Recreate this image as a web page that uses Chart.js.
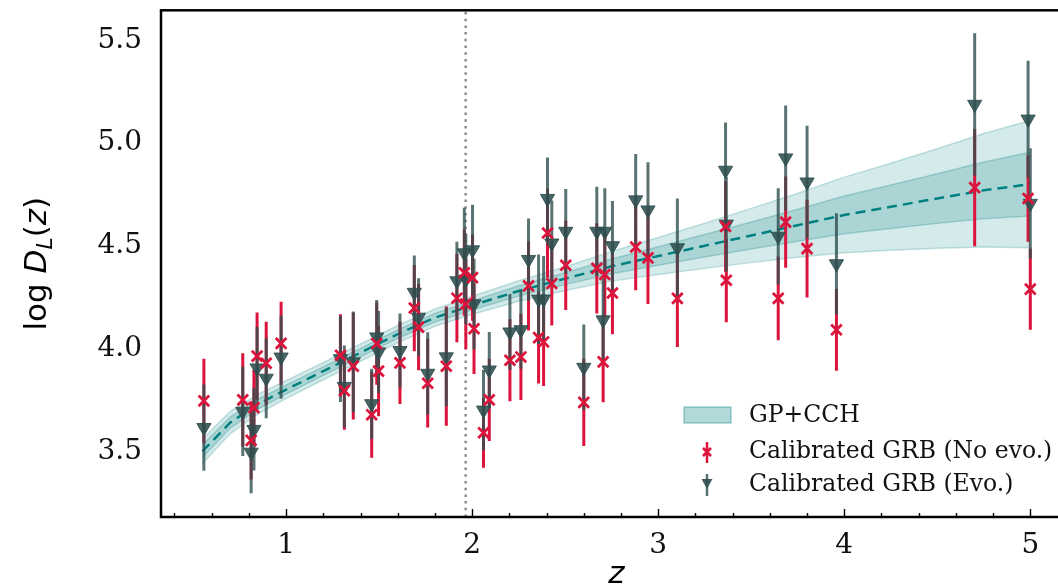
<!DOCTYPE html>
<html>
<head>
<meta charset="utf-8">
<script src="https://cdn.jsdelivr.net/npm/chart.js@4.4.1/dist/chart.umd.min.js"></script>
<style>
  html, body { margin: 0; padding: 0; background: #fff; overflow: hidden; }
  canvas { display: block; }
</style>
</head>
<body>
<canvas id="chart" width="1082" height="587"></canvas>
<script>
// Hubble diagram of calibrated GRBs against the GP+CCH reconstruction.

// GRB redshifts
const zGRB = [0.558, 0.767, 0.812, 0.827, 0.844, 0.893, 0.973, 1.292, 1.313, 1.361,
  1.46, 1.487, 1.497, 1.612, 1.689, 1.712, 1.761, 1.861, 1.918, 1.958,
  1.966, 2.002, 2.01, 2.061, 2.092, 2.203, 2.262, 2.303, 2.357, 2.384,
  2.405, 2.428, 2.503, 2.6, 2.67, 2.704, 2.713, 2.754, 2.879, 2.945,
  3.103, 3.362, 3.366, 3.645, 3.685, 3.8, 3.958, 4.701, 4.988, 5.0];

// log D_L, calibrated without evolution (red crosses) and its 1-sigma error
const logDLNoEvo = [3.745, 3.75, 3.553, 3.712, 3.963, 3.928, 4.025, 3.967, 3.795, 3.914,
  3.678, 4.024, 3.89, 3.93, 4.197, 4.104, 3.831, 3.914, 4.245, 4.369,
  4.217, 4.345, 4.096, 3.59, 3.75, 3.943, 3.959, 4.305, 4.053, 4.032,
  4.562, 4.316, 4.405, 3.738, 4.39, 3.935, 4.36, 4.27, 4.494, 4.441,
  4.244, 4.594, 4.332, 4.244, 4.615, 4.486, 4.091, 4.783, 4.73, 4.289];
const errNoEvo = [0.205, 0.227, 0.19, 0.183, 0.212, 0.202, 0.203, 0.2, 0.19, 0.26,
  0.21, 0.2, 0.22, 0.2, 0.21, 0.21, 0.216, 0.29, 0.215, 0.21,
  0.22, 0.21, 0.22, 0.17, 0.2, 0.2, 0.21, 0.217, 0.223, 0.214,
  0.217, 0.204, 0.217, 0.212, 0.22, 0.197, 0.21, 0.2, 0.21, 0.224,
  0.237, 0.22, 0.204, 0.204, 0.222, 0.238, 0.199, 0.285, 0.21, 0.198];

// log D_L, calibrated with evolution (dark triangles) and its 1-sigma error
const logDLEvo = [3.615, 3.694, 3.495, 3.606, 3.905, 3.855, 3.958, 3.95, 3.815, 3.935,
  3.731, 4.056, 3.983, 3.99, 4.273, 4.152, 3.879, 3.959, 4.329, 4.465,
  4.337, 4.48, 4.217, 3.7, 3.895, 4.08, 4.091, 4.433, 4.24, 4.24,
  4.73, 4.513, 4.57, 3.908, 4.57, 4.139, 4.57, 4.5, 4.723, 4.674,
  4.49, 4.867, 4.605, 4.546, 4.927, 4.81, 4.412, 5.188, 5.116, 4.706];
const errEvo = [0.21, 0.217, 0.2, 0.2, 0.2, 0.195, 0.203, 0.21, 0.2, 0.245,
  0.17, 0.18, 0.2, 0.18, 0.18, 0.19, 0.2, 0.24, 0.19, 0.22,
  0.22, 0.22, 0.22, 0.195, 0.185, 0.185, 0.19, 0.2, 0.218, 0.21,
  0.2, 0.207, 0.206, 0.209, 0.217, 0.2, 0.21, 0.218, 0.224, 0.233,
  0.24, 0.233, 0.23, 0.234, 0.256, 0.274, 0.246, 0.346, 0.284, 0.269];

// GP+CCH reconstruction: mean and 1-sigma half width
const gpZ = [0.55, 0.7, 0.85, 1.0, 1.2, 1.4, 1.6, 1.8, 2.0, 2.25, 2.5,
  2.75, 3.0, 3.25, 3.5, 3.75, 4.0, 4.25, 4.5, 4.75, 5.0];
const gpMean = [3.5, 3.64, 3.73, 3.8, 3.89, 3.98, 4.07, 4.15, 4.21, 4.28, 4.34,
  4.4, 4.45, 4.5, 4.55, 4.6, 4.65, 4.69, 4.73, 4.77, 4.8];
const gpSigma = [0.03, 0.027, 0.024, 0.022, 0.021, 0.021, 0.021, 0.021, 0.022, 0.025, 0.029,
  0.036, 0.045, 0.055, 0.066, 0.078, 0.092, 0.106, 0.121, 0.138, 0.155];

// highest cosmic-chronometer redshift (dotted line)
const zCCHmax = 1.965;

const xTicks = [1, 2, 3, 4, 5];
const xMinorTicks = [0.4, 0.6, 0.8, 1.2, 1.4, 1.6, 1.8, 2.2, 2.4, 2.6, 2.8,
  3.2, 3.4, 3.6, 3.8, 4.2, 4.4, 4.6, 4.8, 5.2];
const yTicks = [3.5, 4.0, 4.5, 5.0, 5.5];
const xRange = [0.3275, 5.2225];
const yRange = [3.18, 5.646];

const RED = "#dc143c";
const DARK = "rgba(47, 79, 79, 0.8)";
const TEAL = "#008080";

function band(k) {
  return {
    upper: gpZ.map((z, i) => ({ x: z, y: gpMean[i] + k * gpSigma[i] })),
    lower: gpZ.map((z, i) => ({ x: z, y: gpMean[i] - k * gpSigma[i] })),
  };
}

function errorBars(values, errs) {
  const pts = [];
  zGRB.forEach((z, i) => {
    pts.push({ x: z, y: values[i] - errs[i] });
    pts.push({ x: z, y: values[i] + errs[i] });
    pts.push({ x: z, y: null });
  });
  return pts;
}

const band2 = band(2);
const band1 = band(1);

const lineDefaults = { pointRadius: 0, tension: 0, spanGaps: false };

const datasets = [
  { ...lineDefaults, data: band2.upper, fill: "+1", order: 20,
    backgroundColor: "rgba(0,128,128,0.165)", borderColor: "rgba(0,128,128,0.22)", borderWidth: 1.5 },
  { ...lineDefaults, data: band2.lower, fill: false, order: 20,
    borderColor: "rgba(0,128,128,0.22)", borderWidth: 1.5 },
  { ...lineDefaults, data: band1.upper, fill: "+1", order: 19,
    backgroundColor: "rgba(0,128,128,0.2)", borderColor: "rgba(0,128,128,0.25)", borderWidth: 1.5 },
  { ...lineDefaults, data: band1.lower, fill: false, order: 19,
    borderColor: "rgba(0,128,128,0.25)", borderWidth: 1.5 },
  { ...lineDefaults, data: gpZ.map((z, i) => ({ x: z, y: gpMean[i] })), order: 18,
    borderColor: TEAL, borderWidth: 2.5, borderDash: [10, 6], fill: false },
  { ...lineDefaults, data: [{ x: zCCHmax, y: yRange[0] }, { x: zCCHmax, y: yRange[1] }], order: 17,
    borderColor: "#8c8c8c", borderWidth: 2.5, borderDash: [2.5, 4.2], fill: false },
  { ...lineDefaults, data: errorBars(logDLNoEvo, errNoEvo), order: 10,
    borderColor: RED, borderWidth: 3, fill: false },
  { ...lineDefaults, data: errorBars(logDLEvo, errEvo), order: 9,
    borderColor: DARK, borderWidth: 3, fill: false },
  { data: zGRB.map((z, i) => ({ x: z, y: logDLEvo[i] })), order: 8, showLine: false,
    pointStyle: "triangle", rotation: 180, pointRadius: 8.2,
    pointBackgroundColor: "rgba(47,79,79,0.88)", pointBorderColor: "rgba(47,79,79,0.88)", pointBorderWidth: 1 },
  { data: zGRB.map((z, i) => ({ x: z, y: logDLNoEvo[i] })), order: 7, showLine: false,
    pointStyle: "crossRot", pointRadius: 7.5, pointBorderColor: RED, pointBorderWidth: 2.8 },
];

const tickFont = { family: "DejaVu Serif", size: 28 };

const decorations = {
  id: "decorations",
  afterDraw(chart) {
    const { ctx, chartArea } = chart;
    const { left, right, top, bottom } = chartArea;
    const xs = chart.scales.x;
    ctx.save();

    // inward ticks on the bottom axis
    ctx.strokeStyle = "#000";
    ctx.lineWidth = 1.4;
    ctx.beginPath();
    xTicks.forEach((v) => {
      const px = Math.round(xs.getPixelForValue(v)) + 0.5;
      ctx.moveTo(px, bottom);
      ctx.lineTo(px, bottom - 8);
    });
    xMinorTicks.forEach((v) => {
      const px = Math.round(xs.getPixelForValue(v)) + 0.5;
      ctx.moveTo(px, bottom);
      ctx.lineTo(px, bottom - 4);
    });
    ctx.stroke();

    // frame
    ctx.lineWidth = 2.5;
    ctx.strokeRect(left, top, right - left, bottom - top);

    // x title
    ctx.fillStyle = "#000";
    ctx.font = 'italic 31px "DejaVu Sans"';
    ctx.textAlign = "center";
    ctx.textBaseline = "alphabetic";
    ctx.fillText("z", (left + right) / 2, 583);

    // y title: log D_L(z)
    const parts = [
      { t: "log", f: '31px "DejaVu Sans"', dy: 0 },
      { t: " ", f: '31px "DejaVu Sans"', dy: 0 },
      { t: "D", f: 'italic 31px "DejaVu Sans"', dy: 0 },
      { t: "L", f: 'italic 22px "DejaVu Sans"', dy: 6 },
      { t: "(", f: '31px "DejaVu Sans"', dy: 0 },
      { t: "z", f: 'italic 31px "DejaVu Sans"', dy: 0 },
      { t: ")", f: '31px "DejaVu Sans"', dy: 0 },
    ];
    let total = 0;
    parts.forEach((p) => { ctx.font = p.f; p.w = ctx.measureText(p.t).width; total += p.w; });
    ctx.translate(46, (top + bottom) / 2);
    ctx.rotate(-Math.PI / 2);
    ctx.textAlign = "left";
    let cx = -total / 2;
    parts.forEach((p) => { ctx.font = p.f; ctx.fillText(p.t, cx, p.dy); cx += p.w; });
    ctx.setTransform(1, 0, 0, 1, 0, 0);

    // legend
    const lx = 707, tx = 749;
    ctx.fillStyle = "rgba(0,128,128,0.3)";
    ctx.strokeStyle = "rgba(0,128,128,0.35)";
    ctx.lineWidth = 1.5;
    ctx.fillRect(684, 407, 47, 16);
    ctx.strokeRect(684, 407, 47, 16);

    ctx.strokeStyle = RED;
    ctx.lineWidth = 2.5;
    ctx.beginPath();
    ctx.moveTo(lx, 442); ctx.lineTo(lx, 463);
    ctx.moveTo(lx - 4, 448); ctx.lineTo(lx + 4, 456);
    ctx.moveTo(lx + 4, 448); ctx.lineTo(lx - 4, 456);
    ctx.stroke();

    ctx.strokeStyle = DARK;
    ctx.beginPath();
    ctx.moveTo(lx, 474); ctx.lineTo(lx, 496);
    ctx.stroke();
    ctx.fillStyle = "rgba(47,79,79,0.9)";
    ctx.beginPath();
    ctx.moveTo(lx - 5.5, 479); ctx.lineTo(lx + 5.5, 479); ctx.lineTo(lx, 489);
    ctx.closePath();
    ctx.fill();

    ctx.fillStyle = "#111";
    ctx.font = '23.5px "DejaVu Serif"';
    ctx.textAlign = "left";
    ctx.textBaseline = "middle";
    ctx.fillText("GP+CCH", tx, 416);
    ctx.fillText("Calibrated GRB (No evo.)", tx, 452);
    ctx.fillText("Calibrated GRB (Evo.)", tx, 485);
    ctx.restore();
  },
};

new Chart(document.getElementById("chart"), {
  type: "line",
  data: { datasets: datasets },
  options: {
    responsive: false,
    animation: false,
    events: [],
    layout: { padding: { top: 5, right: 4, left: 0, bottom: 0 } },
    plugins: { legend: { display: false }, tooltip: { enabled: false } },
    scales: {
      x: {
        type: "linear",
        min: xRange[0],
        max: xRange[1],
        grid: { display: false },
        border: { display: false },
        ticks: { font: tickFont, color: "#111", padding: 4, maxRotation: 0, callback: (v) => String(v) },
        afterBuildTicks: (s) => { s.ticks = xTicks.map((v) => ({ value: v })); },
        afterFit: (s) => { s.height = 70; s.paddingLeft = 0; s.paddingRight = 0; },
      },
      y: {
        type: "linear",
        min: yRange[0],
        max: yRange[1],
        grid: { display: false },
        border: { display: false },
        ticks: { font: tickFont, color: "#111", padding: 11, callback: (v) => v.toFixed(1) },
        afterBuildTicks: (s) => { s.ticks = yTicks.map((v) => ({ value: v })); },
        afterFit: (s) => { s.width = 161; s.paddingTop = 0; s.paddingBottom = 0; },
      },
    },
  },
  plugins: [decorations],
});
</script>
</body>
</html>
